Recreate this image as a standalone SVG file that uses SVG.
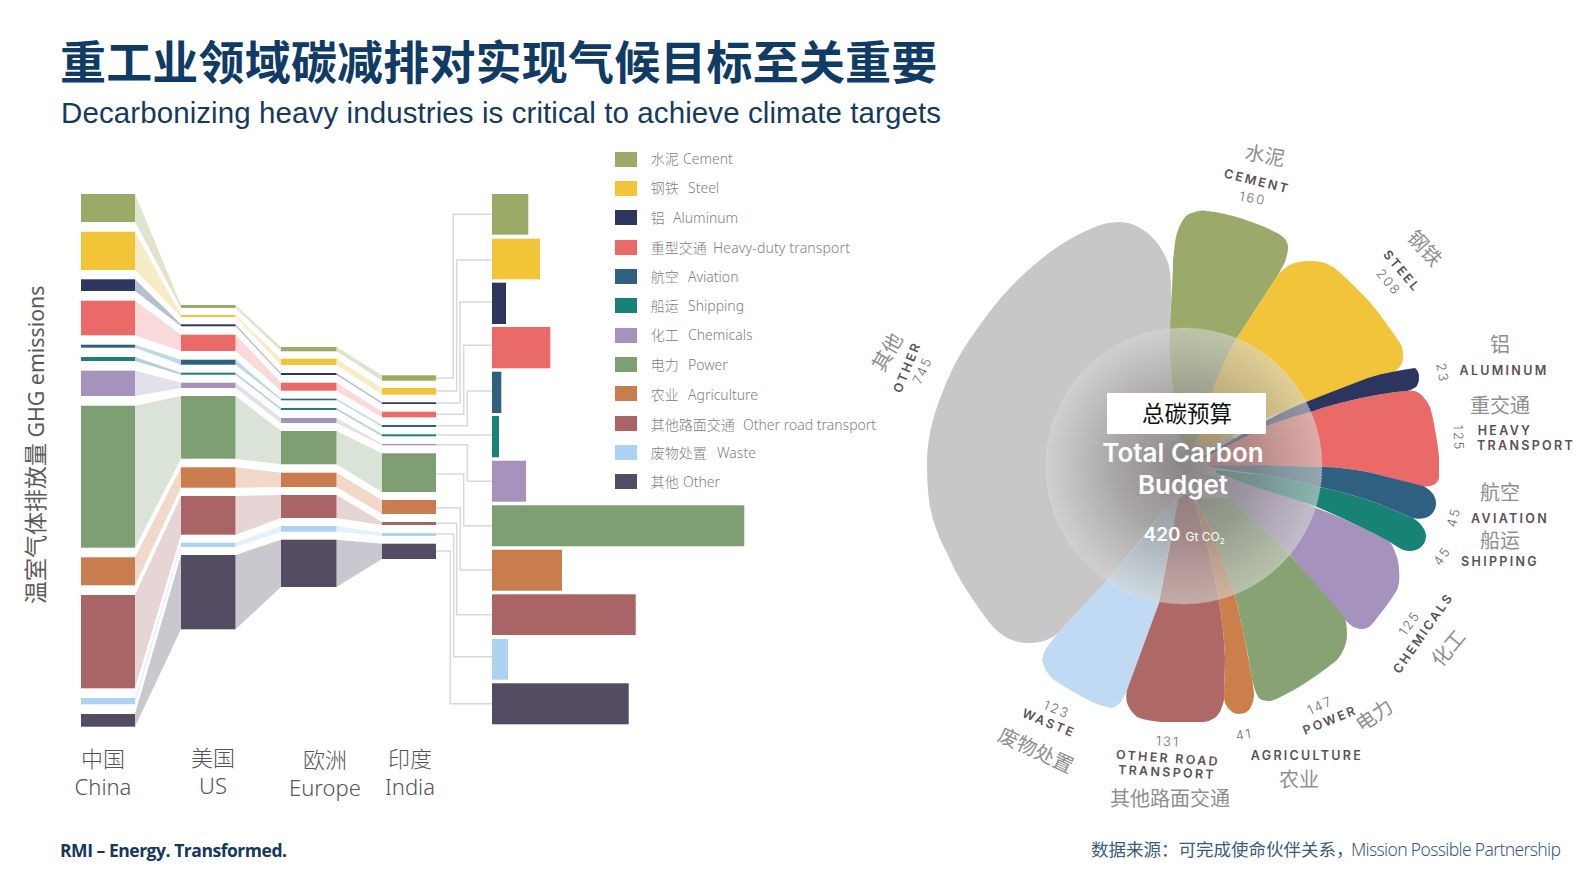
<svg xmlns="http://www.w3.org/2000/svg" width="1587" height="892" viewBox="0 0 1587 892">
<style>
text{font-family:"Noto Sans","Noto Sans CJK SC",sans-serif}
.cm{fill:#9caa68}.st{fill:#f2c539}.al{fill:#2c365f}.hv{fill:#e96a67}.av{fill:#2f607f}.sh{fill:#188277}.ch{fill:#a593bd}.pw{fill:#7e9e73}.ag{fill:#c97d4f}.rd{fill:#a96565}.ws{fill:#aed3f2}.ot{fill:#534c63}
.r-cm{fill:#e1e4cc}.r-st{fill:#f6edc7}.r-al{fill:#b5c1d0}.r-hv{fill:#f9d9d9}.r-av{fill:#bdd9e8}.r-sh{fill:#b5d0d4}.r-ch{fill:#e2e0eb}.r-pw{fill:#d9e3d7}.r-ag{fill:#f2d8c9}.r-rd{fill:#e6d5d5}.r-ws{fill:#e3f1fa}.r-ot{fill:#c8c8ce}
.elbow{fill:none;stroke:#d9d9d9;stroke-width:1.5}
.leg{font-size:14px;fill:#808080;font-weight:300}
.reg{font-size:22px;fill:#555;text-anchor:middle;font-weight:300}
.cn{font-size:20px;fill:#8f8f8f;text-anchor:middle;dominant-baseline:central}
.en{font-size:12.5px;fill:#5b5055;font-weight:600;text-anchor:middle;dominant-baseline:central;letter-spacing:2.3px;font-family:"Inter","Noto Sans",sans-serif}
.nm{font-size:13px;fill:#6f6a6c;text-anchor:middle;dominant-baseline:central;letter-spacing:2px;font-family:"Inter","Noto Sans",sans-serif;font-weight:300}
.wh{fill:#fff;text-anchor:middle;font-family:"Inter","Noto Sans",sans-serif;font-weight:600}
</style>
<defs>
<radialGradient id="disc" cx="1184" cy="466" r="138" gradientUnits="userSpaceOnUse">
<stop offset="0" stop-color="#7d7878" stop-opacity=".85"/>
<stop offset=".5" stop-color="#9a9696" stop-opacity=".68"/>
<stop offset="1" stop-color="#d6d6d2" stop-opacity=".6"/>
</radialGradient>
</defs>
<rect width="1587" height="892" fill="#fff"/>

<g id="title">
<text x="60" y="79" font-size="46" font-weight="700" letter-spacing=".18" fill="#0f3b64" style="font-family:'Noto Sans CJK SC',sans-serif">重工业领域碳减排对实现气候目标至关重要</text>
<text x="61" y="123" font-size="29.5" fill="#153a5e" textLength="880" style="font-family:'Liberation Sans',sans-serif">Decarbonizing heavy industries is critical to achieve climate targets</text>
</g>
<text id="y-label" transform="translate(44,604) rotate(-90)" font-size="21.3" fill="#5a5a5a"><tspan font-size="23">温室气体排放量</tspan> GHG emissions</text>

<g id="connectors">
<path class="elbow" d="M436,378H453.3V214.3H492"/>
<path class="elbow" d="M436,391H456.7V260H492"/>
<path class="elbow" d="M436,403H460V302H492"/>
<path class="elbow" d="M436,414.3H463.7V345.3H492"/>
<path class="elbow" d="M436,425.7H467.3V391H492"/>
<path class="elbow" d="M436,435H492"/>
<path class="elbow" d="M436,444.7H467.3V481.3H492"/>
<path class="elbow" d="M436,474H463.7V525.7H492"/>
<path class="elbow" d="M436,507.7H460.3V570H492"/>
<path class="elbow" d="M436,523.3H456.7V614.7H492"/>
<path class="elbow" d="M436,534H453.7V656.7H492"/>
<path class="elbow" d="M436,551H450.3V703.7H492"/>
</g>

<g id="cement"><path class="r-cm" d="M135,194L181,305V308L135,222ZM235.5,305L281,347V351.3L235.5,308ZM336.5,347L382,375.3V380.7L336.5,351.3Z"/>
<g class="cm"><rect x="81" y="194" width="54" height="28"/><rect x="181" y="305" width="54.5" height="3"/><rect x="281" y="347" width="55.5" height="4.3"/><rect x="382" y="375.3" width="54" height="5.4"/><rect x="492" y="194" width="36.3" height="40.7"/></g></g>
<g id="steel"><path class="r-st" d="M135,231.7L181,315V317L135,270ZM235.5,315L281,358.7V365L235.5,317ZM336.5,358.7L382,388V394.7L336.5,365Z"/>
<g class="st"><rect x="81" y="231.7" width="54" height="38.3"/><rect x="181" y="315" width="54.5" height="2"/><rect x="281" y="358.7" width="55.5" height="6.3"/><rect x="382" y="388" width="54" height="6.7"/><rect x="492" y="238.7" width="48" height="40.6"/></g></g>
<g id="aluminum"><path class="r-al" d="M135,279.3L181,324.3V326.3L135,291ZM235.5,324.3L281,373V375L235.5,326.3ZM336.5,373L382,402.3V404L336.5,375Z"/>
<g class="al"><rect x="81" y="279.3" width="54" height="11.7"/><rect x="181" y="324.3" width="54.5" height="2"/><rect x="281" y="373" width="55.5" height="2"/><rect x="382" y="402.3" width="54" height="1.7"/><rect x="492" y="282.7" width="14" height="41.3"/></g></g>
<g id="heavy-transport"><path class="r-hv" d="M135,300.7L181,334.7V351L135,335.3ZM235.5,334.7L281,382.7V390.7L235.5,351ZM336.5,382.7L382,411.7V417.3L336.5,390.7Z"/>
<g class="hv"><rect x="81" y="300.7" width="54" height="34.6"/><rect x="181" y="334.7" width="54.5" height="16.3"/><rect x="281" y="382.7" width="55.5" height="8"/><rect x="382" y="411.7" width="54" height="5.6"/><rect x="492" y="327" width="58.3" height="41.3"/></g></g>
<g id="aviation"><path class="r-av" d="M135,344.7L181,359.7V364.7L135,347.7ZM235.5,359.7L281,398.7V400.3L235.5,364.7ZM336.5,398.7L382,425V427L336.5,400.3Z"/>
<g class="av"><rect x="81" y="344.7" width="54" height="3"/><rect x="181" y="359.7" width="54.5" height="5"/><rect x="281" y="398.7" width="55.5" height="1.6"/><rect x="382" y="425" width="54" height="2"/><rect x="492" y="371.7" width="9.3" height="41.3"/></g></g>
<g id="shipping"><path class="r-sh" d="M135,357L181,372.7V374.7L135,361ZM235.5,372.7L281,408V410L235.5,374.7ZM336.5,408L382,434.3V436.3L336.5,410Z"/>
<g class="sh"><rect x="81" y="357" width="54" height="4"/><rect x="181" y="372.7" width="54.5" height="2"/><rect x="281" y="408" width="55.5" height="2"/><rect x="382" y="434.3" width="54" height="2"/><rect x="492" y="416" width="7" height="41.3"/></g></g>
<g id="chemicals"><path class="r-ch" d="M135,370.7L181,382.7V388L135,396ZM235.5,382.7L281,418V423L235.5,388ZM336.5,418L382,444V445.3L336.5,423Z"/>
<g class="ch"><rect x="81" y="370.7" width="54" height="25.3"/><rect x="181" y="382.7" width="54.5" height="5.3"/><rect x="281" y="418" width="55.5" height="5"/><rect x="382" y="444" width="54" height="1.3"/><rect x="492" y="460.7" width="34" height="41"/></g></g>
<g id="power"><path class="r-pw" d="M135,405.7L181,396V458.7L135,547.7ZM235.5,396L281,431V464.3L235.5,458.7ZM336.5,431L382,453.3V492L336.5,464.3Z"/>
<g class="pw"><rect x="81" y="405.7" width="54" height="142"/><rect x="181" y="396" width="54.5" height="62.7"/><rect x="281" y="431" width="55.5" height="33.3"/><rect x="382" y="453.3" width="54" height="38.7"/><rect x="492" y="505.3" width="252.3" height="41"/></g></g>
<g id="agriculture"><path class="r-ag" d="M135,557.3L181,467.3V487.7L135,585.3ZM235.5,467.3L281,472.7V487L235.5,487.7ZM336.5,472.7L382,500V514L336.5,487Z"/>
<g class="ag"><rect x="81" y="557.3" width="54" height="28"/><rect x="181" y="467.3" width="54.5" height="20.4"/><rect x="281" y="472.7" width="55.5" height="14.3"/><rect x="382" y="500" width="54" height="14"/><rect x="492" y="549.7" width="70" height="41"/></g></g>
<g id="other-road"><path class="r-rd" d="M135,595L181,496V534.7L135,688.3ZM235.5,496L281,495V518L235.5,534.7ZM336.5,495L382,522V525L336.5,518Z"/>
<g class="rd"><rect x="81" y="595" width="54" height="93.3"/><rect x="181" y="496" width="54.5" height="38.7"/><rect x="281" y="495" width="55.5" height="23"/><rect x="382" y="522" width="54" height="3"/><rect x="492" y="594.3" width="143.7" height="40.7"/></g></g>
<g id="waste"><path class="r-ws" d="M135,698L181,542.7V547L135,704.3ZM235.5,542.7L281,526V531.7L235.5,547ZM336.5,526L382,533V536L336.5,531.7Z"/>
<g class="ws"><rect x="81" y="698" width="54" height="6.3"/><rect x="181" y="542.7" width="54.5" height="4.3"/><rect x="281" y="526" width="55.5" height="5.7"/><rect x="382" y="533" width="54" height="3"/><rect x="492" y="639" width="16" height="40.7"/></g></g>
<g id="other"><path class="r-ot" d="M135,714L181,555V629.3L135,726.7ZM235.5,555L281,539.7V587L235.5,629.3ZM336.5,539.7L382,543.7V559L336.5,587Z"/>
<g class="ot"><rect x="81" y="714" width="54" height="12.7"/><rect x="181" y="555" width="54.5" height="74.3"/><rect x="281" y="539.7" width="55.5" height="47.3"/><rect x="382" y="543.7" width="54" height="15.3"/><rect x="492" y="683.3" width="136.7" height="41"/></g></g>

<g id="regions">
<text class="reg" x="103" y="767">中国</text><text class="reg" x="103" y="795">China</text>
<text class="reg" x="213" y="766">美国</text><text class="reg" x="213" y="794">US</text>
<text class="reg" x="325" y="768">欧洲</text><text class="reg" x="325" y="796">Europe</text>
<text class="reg" x="410" y="767">印度</text><text class="reg" x="410" y="795">India</text>
</g>

<g id="legend">
<g class="cm"><rect x="615" y="152" width="22" height="15"/></g><text class="leg" x="650.7" y="164">水泥<tspan x="683">Cement</tspan></text>
<g class="st"><rect x="615" y="181" width="22" height="15"/></g><text class="leg" x="650.7" y="193">钢铁<tspan x="688">Steel</tspan></text>
<g class="al"><rect x="615" y="210" width="22" height="15"/></g><text class="leg" x="650.7" y="223">铝<tspan x="673">Aluminum</tspan></text>
<g class="hv"><rect x="615" y="240" width="22" height="15"/></g><text class="leg" x="650.7" y="253">重型交通<tspan x="713" letter-spacing=".15">Heavy-duty transport</tspan></text>
<g class="av"><rect x="615" y="269" width="22" height="15"/></g><text class="leg" x="650.7" y="282">航空<tspan x="688">Aviation</tspan></text>
<g class="sh"><rect x="615" y="298" width="22" height="15"/></g><text class="leg" x="650.7" y="311">船运<tspan x="688">Shipping</tspan></text>
<g class="ch"><rect x="615" y="328" width="22" height="15"/></g><text class="leg" x="650.7" y="340">化工<tspan x="688">Chemicals</tspan></text>
<g class="pw"><rect x="615" y="357" width="22" height="15"/></g><text class="leg" x="650.7" y="370">电力<tspan x="688">Power</tspan></text>
<g class="ag"><rect x="615" y="386" width="22" height="15"/></g><text class="leg" x="650.7" y="400">农业<tspan x="688">Agriculture</tspan></text>
<g class="rd"><rect x="615" y="416" width="22" height="15"/></g><text class="leg" x="650.7" y="430">其他路面交通<tspan x="743">Other road transport</tspan></text>
<g class="ws"><rect x="615" y="445" width="22" height="15"/></g><text class="leg" x="650.7" y="458">废物处置<tspan x="717">Waste</tspan></text>
<g class="ot"><rect x="615" y="474" width="22" height="15"/></g><text class="leg" x="650.7" y="487">其他<tspan x="683">Other</tspan></text>
</g>

<g id="flower">
<circle cx="1196" cy="470" r="50" fill="#c0bcbd"/>
<path id="petal-other" fill="#c8c6c7" d="M1188,465L1173,386C1171,360 1170,340 1170,328C1171,300 1173,270 1166,258C1158,238 1138,222 1120,222C1105,222 1098,226 1088,230C1070,238 1055,248 1040,260C1025,272 1012,285 999,300C985,317 972,335 961,353C950,372 944,388 937,407C930,428 927,445 927,465C927,480 928,495 930,507C934,525 940,540 947,553C955,572 966,590 978,607C987,620 996,632 1006,637C1014,642 1022,643 1030,643C1040,643 1050,640 1058,633L1106,582L1178,493Z"/>
<path id="petal-cement" fill="#9baa6a" d="M1188,453L1179,435L1173,387C1170,360 1169,345 1170,328C1171,300 1173,280 1173,260C1175,245 1175,238 1178,230C1182,220 1186,214 1192,213C1197,211 1201,210 1206,211C1218,212 1230,215 1240,218C1252,222 1264,226 1275,232C1282,235 1288,240 1288,247C1288,254 1286,258 1285,262L1278,275L1237,338C1228,352 1220,372 1213,390L1195,445Z"/>
<path id="petal-steel" fill="#f2c43a" d="M1196,444C1200,428 1206,407 1213,390C1220,372 1228,352 1237,338L1278,275C1284,268 1290,264 1295,263C1302,261 1308,261 1313,261C1320,261 1327,263 1333,267C1345,276 1356,288 1368,300C1380,314 1390,328 1400,343C1403,348 1403,352 1403,357C1403,363 1400,367 1397,370C1386,377 1373,381 1361,385C1342,390 1324,395 1306,402C1292,407 1278,413 1264,420L1223,440L1206,448Z"/>
<path id="petal-heavy" fill="#e96a67" d="M1209,462L1220,448L1264,427C1280,421 1295,416 1311,412C1328,406 1344,402 1361,398C1376,395 1392,392 1407,391C1412,390 1416,391 1419,393C1424,397 1427,401 1430,407C1432,414 1434,422 1435,430C1437,439 1438,448 1439,457L1439,477C1439,481 1436,484 1433,485C1428,487 1424,487 1419,486C1402,481 1385,476 1368,472C1352,469 1337,467 1322,467L1264,465L1209,466Z"/>
<path id="petal-aluminum" fill="#2b355f" d="M1202,457L1264,422C1278,414 1292,407 1306,402C1326,394 1347,386 1368,378C1384,373 1400,370 1415,368C1418,371 1419,373 1419,377C1419,382 1418,384 1416,387C1413,389 1410,390 1407,391C1392,392 1376,395 1361,398C1344,402 1327,406 1311,412C1295,416 1280,421 1264,427L1202,459Z"/>
<path id="petal-chemicals" fill="#a593bd" d="M1196,472L1264,487C1282,492 1299,500 1316,508C1343,518 1368,530 1390,542C1395,550 1399,560 1399,570C1400,578 1399,585 1397,590C1390,602 1381,613 1373,623C1370,627 1366,629 1362,629C1355,629 1350,625 1345,620C1328,602 1309,577 1290,555L1230,497Z"/>
<path id="petal-shipping" fill="#188277" d="M1216,470L1264,475C1283,478 1301,482 1319,487C1336,490 1352,495 1368,500C1383,505 1398,512 1413,518C1421,523 1426,530 1426,536C1426,545 1418,551 1410,551C1402,551 1396,546 1390,542C1368,530 1343,518 1317,507C1299,500 1282,495 1264,490L1216,473Z"/>
<path id="petal-aviation" fill="#2f607f" d="M1209,466L1264,465L1322,467C1337,467 1352,469 1368,472C1385,476 1403,481 1423,486C1431,490 1436,496 1436,503C1436,510 1432,516 1425,518C1420,519 1417,519 1413,518C1398,512 1383,505 1368,500C1352,495 1336,490 1319,487C1301,482 1283,478 1264,475L1216,468Z"/>
<path id="petal-power" fill="#87a374" d="M1196,499L1230,497L1290,555C1309,577 1328,597 1344,617C1347,623 1347,630 1347,637C1346,646 1342,654 1337,660C1325,670 1312,679 1299,687C1290,692 1280,698 1271,701C1266,701 1262,701 1259,698C1256,694 1254,687 1252,680C1250,666 1248,654 1245,640C1242,625 1238,610 1235,595L1213,533Z"/>
<path id="petal-waste" fill="#bfdaf2" d="M1180,495L1168,550L1159,603L1127,690C1125,695 1122,700 1120,703C1117,706 1114,708 1111,708C1105,707 1099,705 1092,702C1079,695 1066,688 1054,680C1048,675 1044,668 1042,660C1043,655 1045,650 1047,647L1058,633L1106,582L1144,537L1178,493Z"/>
<path id="petal-road" fill="#ae6866" d="M1185,495L1192,495L1206,540C1211,560 1215,580 1219,600C1222,619 1224,637 1225,657C1225,670 1224,685 1224,700C1222,708 1220,713 1216,717C1212,720 1207,722 1202,722L1161,722C1152,721 1144,720 1137,717C1132,713 1129,708 1127,703C1126,698 1126,694 1127,690L1159,603L1171,540L1178,500Z"/>
<path id="petal-agriculture" fill="#cb7f4d" d="M1194,498L1213,533L1235,595C1238,610 1242,625 1245,640C1248,658 1252,675 1254,693C1254,700 1252,706 1249,710C1246,713 1242,714 1238,714C1234,714 1231,711 1228,708C1225,704 1224,700 1224,697C1224,683 1225,670 1225,657C1224,637 1222,619 1219,600C1215,580 1211,560 1206,540Z"/>
<circle cx="1184" cy="466" r="138" fill="url(#disc)" stroke="#fff" stroke-opacity=".45" stroke-width="1" stroke-dasharray="1 2"/>
</g>

<g id="center-label">
<rect x="1107" y="393" width="159" height="41" fill="#fff"/>
<text x="1187" y="422" font-size="22.5" fill="#111" text-anchor="middle" style="font-family:'Noto Sans CJK SC',sans-serif">总碳预算</text>
<text class="wh" x="1183" y="462" font-size="26">Total Carbon</text>
<text class="wh" x="1183" y="494" font-size="26">Budget</text>
<text class="wh" x="1143.5" y="541" font-size="19" style="text-anchor:start">420<tspan font-size="12" font-weight="400" dx="5">Gt CO</tspan><tspan font-size="8" font-weight="400" dy="3">2</tspan></text>
</g>

<g id="flower-labels">
<text class="cn" transform="translate(1265,155) rotate(10)">水泥</text>
<text class="en" transform="translate(1257,181) rotate(14)">CEMENT</text>
<text class="nm" transform="translate(1253,198) rotate(10)">160</text>
<text class="cn" transform="translate(1425,248) rotate(48)">钢铁</text>
<text class="en" transform="translate(1402,271) rotate(50)">STEEL</text>
<text class="nm" transform="translate(1389,282) rotate(50)">208</text>
<text class="cn" x="1500" y="344">铝</text>
<text class="en" x="1504" y="370">ALUMINUM</text>
<text class="nm" transform="translate(1443,373) rotate(80)">23</text>
<text class="cn" x="1500" y="405">重交通</text>
<text class="nm" transform="translate(1459,438) rotate(88)">125</text>
<text class="en" x="1505" y="430">HEAVY</text>
<text class="en" x="1526" y="445">TRANSPORT</text>
<text class="cn" x="1500" y="492">航空</text>
<text class="en" x="1510" y="518">AVIATION</text>
<text class="nm" transform="translate(1453,517) rotate(-75)">45</text>
<text class="cn" x="1500" y="540">船运</text>
<text class="en" x="1500" y="561">SHIPPING</text>
<text class="nm" transform="translate(1441.7,555.7) rotate(-55)">45</text>
<text class="nm" transform="translate(1409,623) rotate(-55)">125</text>
<text class="en" transform="translate(1423,633) rotate(-55)">CHEMICALS</text>
<text class="cn" transform="translate(1448,648) rotate(-50)">化工</text>
<text class="nm" transform="translate(1320,705) rotate(-25)">147</text>
<text class="en" transform="translate(1330,720) rotate(-22)">POWER</text>
<text class="cn" transform="translate(1374,715) rotate(-35)">电力</text>
<text class="en" x="1307" y="755">AGRICULTURE</text>
<text class="cn" x="1299" y="779">农业</text>
<text class="nm" transform="translate(1244,734) rotate(-10)">41</text>
<text class="nm" transform="translate(1168,741) rotate(3)">131</text>
<text class="en" transform="translate(1168,758) rotate(4)">OTHER ROAD</text>
<text class="en" transform="translate(1167,772) rotate(3)">TRANSPORT</text>
<text class="cn" x="1170" y="798">其他路面交通</text>
<text class="nm" transform="translate(1057,709) rotate(22)">123</text>
<text class="en" transform="translate(1049,723) rotate(22)">WASTE</text>
<text class="cn" transform="translate(1036,750) rotate(25)">废物处置</text>
<text class="cn" transform="translate(887,352) rotate(-60)">其他</text>
<text class="en" transform="translate(907,367) rotate(-68)">OTHER</text>
<text class="nm" transform="translate(922,370) rotate(-65)">745</text>
</g>

<g id="footer">
<text x="60" y="857" font-size="17.5" font-weight="700" fill="#14375e" textLength="227" style="font-family:'Open Sans',sans-serif">RMI – Energy. Transformed.</text>
<text x="1091" y="856" font-size="17.5" fill="#3b5b7b">数据来源：可完成使命伙伴关系，</text>
<text x="1351" y="856" font-size="17.5" fill="#3b5b7b" font-weight="300" textLength="210">Mission Possible Partnership</text>
</g>
</svg>
